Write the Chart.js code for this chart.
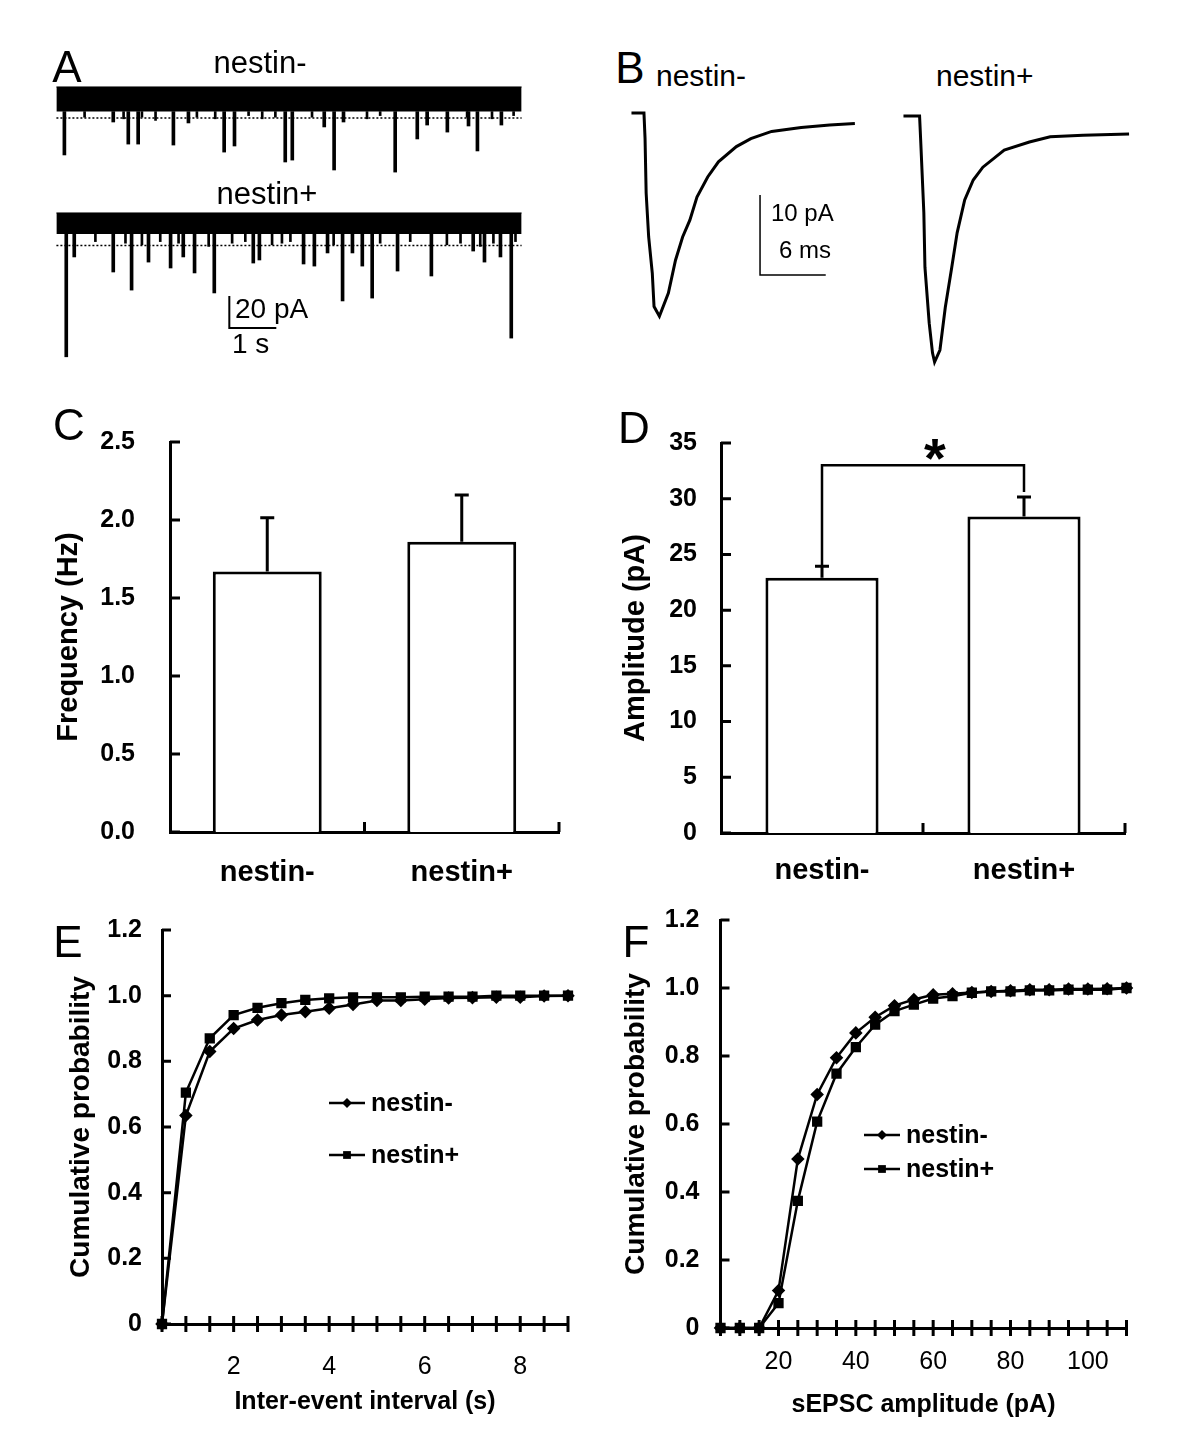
<!DOCTYPE html>
<html>
<head>
<meta charset="utf-8">
<script src="https://cdn.jsdelivr.net/npm/chart.js@4.4.1/dist/chart.umd.min.js"></script>
<style>
  body { margin: 0; background: #fff; }
  #fig { position: relative; width: 1200px; height: 1439px; background: #fff; overflow: hidden;
         font-family: "Liberation Sans", Arial, sans-serif; color: #000; }
  canvas { position: absolute; }
  .t { position: absolute; line-height: 1; white-space: nowrap; }
  .c { transform: translate(-50%, -50%); }
  .l { transform: translate(0, -50%); }
</style>
</head>
<body>
<div id="fig">
  <canvas id="a1" width="484" height="100" style="left:47px;top:80px"></canvas>
  <canvas id="a2" width="484" height="160" style="left:47px;top:205px"></canvas>
  <canvas id="b1" width="235" height="232" style="left:626px;top:97px"></canvas>
  <canvas id="b2" width="235" height="272" style="left:898px;top:100px"></canvas>
  <canvas id="c" width="530" height="508" style="left:40px;top:392px"></canvas>
  <canvas id="d" width="540" height="500" style="left:600px;top:400px"></canvas>
  <canvas id="e" width="540" height="535" style="left:40px;top:895px"></canvas>
  <canvas id="f" width="540" height="546" style="left:600px;top:884px"></canvas>

  <div class="t c" style="left:67px;top:67px;font-size:44px">A</div>
  <div class="t c" style="left:260px;top:62px;font-size:31px">nestin-</div>
  <div class="t c" style="left:267px;top:193px;font-size:31px">nestin+</div>
  <div class="t l" style="left:235px;top:309px;font-size:28px">20 pA</div>
  <div class="t l" style="left:232px;top:344px;font-size:28px">1 s</div>
  <div class="t c" style="left:630px;top:68px;font-size:44px">B</div>
  <div class="t l" style="left:656px;top:76px;font-size:30px">nestin-</div>
  <div class="t l" style="left:936px;top:76px;font-size:30px">nestin+</div>
  <div class="t l" style="left:771px;top:213px;font-size:24px">10 pA</div>
  <div class="t l" style="left:779px;top:250px;font-size:24px">6 ms</div>
  <div class="t c" style="left:69px;top:425px;font-size:44px">C</div>
  <div class="t c" style="left:634px;top:428px;font-size:44px">D</div>
  <div class="t c" style="left:68px;top:942px;font-size:44px">E</div>
  <div class="t c" style="left:636px;top:942px;font-size:44px">F</div>
</div>

<script>
// ---- data ----
const groups = ['nestin-', 'nestin+'];

// A: sEPSC events in the raw traces (time in s, peak in pA from baseline)
const traceDur = 9.9;
const negEventT = [0.17, 1.21, 1.53, 1.74, 2.49, 2.81, 3.57, 3.79, 4.87, 5.02, 5.70, 5.91, 6.11, 7.21, 7.68, 7.89, 8.32, 8.77, 8.96, 9.47];
const negEventAmp = [-35.6, -15, -28.8, -28.8, -29.4, -15.6, -33.8, -30, -40, -38.8, -18.1, -45, -15, -46.3, -25.6, -16.9, -21.3, -17.5, -33.1, -16.9];
const negSmallT = [0.6, 1.43, 1.82, 2.11, 2.99, 3.38, 4.09, 4.38, 4.66, 5.44, 6.61, 6.89, 8.74, 9.27, 9.73];
const negSmallAmp = [-12, -13, -12, -14, -12, -13, -11, -13, -12, -12, -13, -11, -12, -13, -11];
const posEventT = [0.21, 0.38, 1.21, 1.60, 1.96, 2.43, 2.70, 2.94, 3.36, 4.19, 4.32, 5.26, 5.49, 5.77, 6.09, 6.30, 6.51, 6.72, 7.26, 7.98, 8.87, 9.11, 9.45, 9.68];
const posEventAmp = [-83, -20.6, -30, -41.3, -23.8, -27.5, -20.6, -30.6, -43.1, -24.4, -22.5, -25, -26.3, -18.1, -48.1, -18.1, -26.3, -46.3, -29.4, -32.5, -16.9, -23.8, -20.6, -71.3];
const posSmallT = [0.83, 1.47, 1.82, 2.21, 2.60, 3.24, 3.74, 4.02, 4.59, 4.80, 4.98, 5.90, 6.89, 7.53, 8.31, 8.60, 9.02, 9.30, 9.77];
const posSmallAmp = [-11, -12, -13, -11, -12, -14, -12, -11, -13, -12, -11, -13, -12, -11, -13, -12, -14, -12, -11];
const negNoise = [6.9, -8.5];   // noise band top / bottom (pA)
const posNoise = [6.9, -6.3];
const negThreshold = -12.5;     // dotted detection line
const posThreshold = -13.5;

// B: averaged sEPSCs (time in ms, current in pA)
const avgNegT = [0, 1.14, 1.24, 1.34, 1.57, 1.90, 2.06, 2.55, 3.37, 4.02, 4.67, 5.33, 5.98, 6.96, 7.94, 9.58, 10.9, 12.8, 15.5, 18.1, 20.4];
const avgNegI = [0, 0, -3.2, -10, -15.5, -20, -24.2, -25.4, -22.5, -18.4, -15.5, -13.4, -10.5, -8.0, -6.1, -4.2, -3.2, -2.3, -1.8, -1.5, -1.3];
const avgPosT = [0, 1.47, 1.57, 1.86, 1.96, 2.35, 2.65, 2.84, 3.33, 3.82, 4.41, 4.9, 5.59, 6.37, 7.25, 9.2, 11.5, 13.4, 16.4, 20.6];
const avgPosI = [0, 0, -3, -12.1, -18.9, -25.9, -29.6, -30.75, -29.25, -23.9, -18.9, -14.6, -10.5, -8, -6.4, -4.25, -3.25, -2.6, -2.4, -2.25];

// C, D: mean +/- SEM
const freqMean = [1.67, 1.86];
const freqSem = [0.345, 0.30];
const ampMean = [22.9, 28.4];
const ampSem = [1.05, 1.75];

// E: cumulative inter-event interval
const intervalX = [0.5, 1, 1.5, 2, 2.5, 3, 3.5, 4, 4.5, 5, 5.5, 6, 6.5, 7, 7.5, 8, 8.5, 9];
const intervalNeg = [0, 0.635, 0.83, 0.90, 0.926, 0.941, 0.951, 0.962, 0.973, 0.985, 0.985, 0.989, 0.993, 0.994, 0.995, 0.995, 0.999, 1.0];
const intervalPos = [0, 0.705, 0.87, 0.941, 0.963, 0.977, 0.987, 0.992, 0.995, 0.995, 0.995, 0.997, 0.997, 0.997, 1.0, 1.0, 1.0, 1.0];

// F: cumulative amplitude
const ampX = [5, 10, 15, 20, 25, 30, 35, 40, 45, 50, 55, 60, 65, 70, 75, 80, 85, 90, 95, 100, 105, 110];
const ampNeg = [0, 0, 0, 0.11, 0.497, 0.687, 0.795, 0.868, 0.914, 0.948, 0.966, 0.98, 0.983, 0.987, 0.99, 0.992, 0.995, 0.995, 0.997, 0.997, 0.998, 1.0];
const ampPos = [0, 0, 0, 0.073, 0.374, 0.607, 0.748, 0.826, 0.892, 0.932, 0.951, 0.969, 0.976, 0.986, 0.99, 0.99, 0.993, 0.993, 0.995, 0.995, 0.995, 1.0];

// ---- defaults ----
const FONT = '"Liberation Sans", Arial, sans-serif';
Chart.defaults.font.family = FONT;
Chart.defaults.color = '#000';
Chart.defaults.animation = false;
Chart.defaults.responsive = false;
Chart.defaults.plugins.legend.display = false;
Chart.defaults.plugins.tooltip.enabled = false;

// ---- small plugins ----
const axisTicks = {
  id: 'axisTicks',
  afterDraw(chart, args, o) {
    const { ctx, chartArea: a, scales: { x, y } } = chart;
    ctx.save();
    ctx.strokeStyle = '#000';
    ctx.lineWidth = o.width;
    ctx.beginPath();
    y.ticks.forEach(t => {
      const p = y.getPixelForValue(t.value);
      ctx.moveTo(a.left, p);
      ctx.lineTo(a.left + o.yIn, p);
    });
    if (x.type === 'category') {
      const n = x.ticks.length, step = a.width / n;
      for (let i = 1; i <= n; i++) {
        const p = a.left + i * step;
        ctx.moveTo(p, a.bottom);
        ctx.lineTo(p, a.bottom - o.xIn);
      }
    } else {
      x.ticks.forEach(t => {
        const p = x.getPixelForValue(t.value);
        ctx.moveTo(p, a.bottom + o.xOut);
        ctx.lineTo(p, a.bottom - o.xIn);
      });
    }
    ctx.stroke();
    ctx.restore();
  }
};

const errorBars = {
  id: 'errorBars',
  afterDatasetsDraw(chart, args, o) {
    const { ctx, scales: { y } } = chart;
    const ds = chart.data.datasets[0];
    ctx.save();
    ctx.strokeStyle = '#000';
    ctx.lineWidth = o.width;
    chart.getDatasetMeta(0).data.forEach((bar, i) => {
      const top = y.getPixelForValue(ds.data[i] + o.sem[i]);
      ctx.beginPath();
      ctx.moveTo(bar.x, bar.y);
      ctx.lineTo(bar.x, top);
      ctx.moveTo(bar.x - o.cap, top);
      ctx.lineTo(bar.x + o.cap, top);
      ctx.stroke();
    });
    ctx.restore();
  }
};

const sigBracket = {
  id: 'sigBracket',
  afterDatasetsDraw(chart, args, o) {
    const { ctx, scales: { x, y } } = chart;
    const x1 = x.getPixelForValue(o.from), x2 = x.getPixelForValue(o.to);
    const yt = y.getPixelForValue(o.top);
    ctx.save();
    ctx.strokeStyle = '#000';
    ctx.lineWidth = o.width;
    ctx.beginPath();
    ctx.moveTo(x1, y.getPixelForValue(o.fromY));
    ctx.lineTo(x1, yt);
    ctx.lineTo(x2, yt);
    ctx.lineTo(x2, y.getPixelForValue(o.toY));
    ctx.stroke();
    ctx.fillStyle = '#000';
    ctx.font = 'bold 56px ' + FONT;
    ctx.textAlign = 'center';
    ctx.textBaseline = 'alphabetic';
    ctx.fillText(o.text, (x1 + x2) / 2 + o.dx, yt + o.dy);
    ctx.restore();
  }
};

const scaleBar = {
  id: 'scaleBar',
  afterDraw(chart, args, o) {
    const { ctx, scales: { x, y } } = chart;
    const px = x.getPixelForValue(o.x), py = y.getPixelForValue(o.y);
    ctx.save();
    ctx.strokeStyle = '#000';
    ctx.lineWidth = o.width;
    ctx.beginPath();
    ctx.moveTo(px, y.getPixelForValue(o.y + o.dy));
    ctx.lineTo(px, py);
    ctx.lineTo(x.getPixelForValue(o.x + o.dx), py);
    ctx.stroke();
    ctx.restore();
  }
};

function marker(ctx, style, cx, cy, r) {
  ctx.beginPath();
  if (style === 'rect') {
    const s = r * Math.SQRT1_2;
    ctx.rect(cx - s, cy - s, 2 * s, 2 * s);
  } else {
    ctx.moveTo(cx, cy - r); ctx.lineTo(cx + r, cy); ctx.lineTo(cx, cy + r); ctx.lineTo(cx - r, cy);
    ctx.closePath();
  }
  ctx.fill();
}

const lineLegend = {
  id: 'lineLegend',
  afterDraw(chart, args, o) {
    const ctx = chart.ctx;
    chart.data.datasets.forEach((ds, i) => {
      const y = o.y[i];
      ctx.save();
      ctx.strokeStyle = '#000';
      ctx.fillStyle = '#000';
      ctx.lineWidth = 2.5;
      ctx.beginPath();
      ctx.moveTo(o.x, y);
      ctx.lineTo(o.x + o.len, y);
      ctx.stroke();
      marker(ctx, ds.pointStyle, o.x + o.len / 2, y, ds.pointRadius);
      ctx.font = 'bold 25px ' + FONT;
      ctx.textBaseline = 'middle';
      ctx.fillText(ds.label, o.x + o.len + 6, y + 1);
      ctx.restore();
    });
  }
};

// ---- A: raw traces ----
function rawTrace(id, times, amps, smallT, smallAmp, noise, thr, yMin, yMax, extra) {
  const events = times.map((t, i) => ({ x: t, y: [amps[i], noise[1]] }));
  const small = smallT.map((t, i) => ({ x: t, y: [smallAmp[i], noise[1]] }));
  return new Chart(document.getElementById(id), {
    type: 'bar',
    data: {
      datasets: [
        { type: 'line', data: [{ x: 0, y: noise[0] }, { x: traceDur, y: noise[0] }],
          borderColor: '#000', borderWidth: 1, backgroundColor: '#000',
          fill: { value: noise[1] }, pointRadius: 0, clip: false },
        { type: 'line', data: [{ x: 0, y: thr }, { x: traceDur, y: thr }],
          borderColor: '#000', borderWidth: 1.5, borderDash: [2, 2], pointRadius: 0, fill: false },
        { data: small, backgroundColor: '#000', barThickness: 2, grouped: false },
        { data: events, backgroundColor: '#000', barThickness: 3, grouped: false }
      ]
    },
    options: {
      layout: { padding: 0 },
      scales: {
        x: { type: 'linear', display: false, min: -0.2, max: 10.1, offset: false },
        y: { display: false, min: yMin, max: yMax }
      },
      plugins: { scaleBar: extra }
    },
    plugins: extra ? [scaleBar] : []
  });
}
rawTrace('a1', negEventT, negEventAmp, negSmallT, negSmallAmp, negNoise, negThreshold, -51.25, 11.25, null);
rawTrace('a2', posEventT, posEventAmp, posSmallT, posSmallAmp, posNoise, posThreshold, -88.125, 11.875,
  { x: 3.68, y: -65, dx: 1, dy: 20, width: 2 });

// ---- B: averaged events ----
function avgTrace(id, t, i, yMin, bar) {
  return new Chart(document.getElementById(id), {
    type: 'line',
    data: {
      datasets: [{ data: t.map((v, k) => ({ x: v, y: i[k] })), borderColor: '#000',
        borderWidth: 3, pointRadius: 0, tension: 0, clip: false }]
    },
    options: {
      layout: { padding: 0 },
      scales: {
        x: { type: 'linear', display: false, min: -0.5, max: 20.96 },
        y: { display: false, min: yMin, max: 2 }
      },
      plugins: { scaleBar: bar }
    },
    plugins: bar ? [scaleBar] : []
  });
}
avgTrace('b1', avgNegT, avgNegI, -27, { x: 11.74, y: -20.25, dx: 6, dy: 10, width: 1.5 });
avgTrace('b2', avgPosT, avgPosI, -32, null);

// ---- C, D: bar charts ----
const axisBorder = { display: true, color: '#000', width: 3 };
const noGrid = { display: false, drawTicks: false };

function barPanel(id, means, sems, yMax, step, yTitle, fmt, geo, extraPlugins, extraOpts) {
  return new Chart(document.getElementById(id), {
    type: 'bar',
    data: {
      labels: groups,
      datasets: [{ data: means, backgroundColor: '#fff', borderColor: '#000', borderWidth: 3,
        barPercentage: 0.56, categoryPercentage: 1 }]
    },
    options: {
      layout: { padding: { top: geo.top, right: geo.right } },
      scales: {
        x: { grid: noGrid, border: axisBorder,
             ticks: { font: { size: 29, weight: 'bold' }, padding: geo.xPad },
             afterFit: s => { s.height = geo.xH; } },
        y: { min: 0, max: yMax, grid: noGrid, border: axisBorder,
             ticks: { stepSize: step, font: { size: 25, weight: 'bold' }, padding: geo.yPad, callback: fmt },
             title: { display: true, text: yTitle, font: { size: 29, weight: 'bold' }, padding: { top: geo.titlePad } },
             afterFit: s => { s.width = geo.yW; } }
      },
      plugins: Object.assign({
        axisTicks: { width: 3, yIn: 10, xIn: 10, xOut: 0 },
        errorBars: { sem: sems, cap: 7, width: 3 }
      }, extraOpts)
    },
    plugins: [axisTicks, errorBars].concat(extraPlugins)
  });
}

barPanel('c', freqMean, freqSem, 2.5, 0.5, 'Frequency (Hz)', v => v.toFixed(1),
  { top: 50, right: 11, xH: 68, yW: 130, xPad: 24, yPad: 35, titlePad: 12 }, [], {});

barPanel('d', ampMean, ampSem, 35, 5, 'Amplitude (pA)', v => v,
  { top: 43, right: 15, xH: 67, yW: 121, xPad: 21, yPad: 24, titlePad: 18.5 }, [sigBracket],
  { sigBracket: { from: 0, to: 1, fromY: ampMean[0] + ampSem[0], toY: 30.6, top: 33, width: 2.5, text: '*', dx: 12, dy: 12 } });

// ---- E, F: cumulative probability ----
// x tick labels are pushed down with a tall line height instead of tick padding,
// so that Chart.js does not reserve extra room on the right of the axis
function cumPanel(id, xs, neg, pos, xMin, xMax, step, labelEvery, xTitle, geo, legend) {
  return new Chart(document.getElementById(id), {
    type: 'line',
    data: {
      datasets: [
        { label: 'nestin-', data: xs.map((v, k) => ({ x: v, y: neg[k] })), borderColor: '#000',
          backgroundColor: '#000', borderWidth: 2.5, pointStyle: 'rectRot', pointRadius: 5, clip: false },
        { label: 'nestin+', data: xs.map((v, k) => ({ x: v, y: pos[k] })), borderColor: '#000',
          backgroundColor: '#000', borderWidth: 2.5, pointStyle: 'rect', pointRadius: 5.5, clip: false }
      ]
    },
    options: {
      layout: { padding: { top: geo.top, right: geo.right } },
      scales: {
        x: { type: 'linear', min: xMin, max: xMax, grid: noGrid, border: axisBorder,
             ticks: { stepSize: step, maxTicksLimit: 100, autoSkip: false, maxRotation: 0, minRotation: 0,
                      font: { size: 25, lineHeight: geo.xLine }, padding: 0,
                      callback: v => (Math.abs(v % labelEvery) < 1e-9 ? String(v) : '') },
             title: { display: true, text: xTitle, font: { size: 25, weight: 'bold' }, padding: { bottom: geo.xTitlePad } },
             afterFit: s => { s.height = geo.xH; } },
        y: { min: 0, max: 1.2, grid: noGrid, border: axisBorder,
             ticks: { stepSize: 0.2, font: { size: 25, weight: 'bold' }, padding: geo.yPad,
                      callback: v => (v === 0 ? '0' : v.toFixed(1)) },
             title: { display: true, text: 'Cumulative probability', font: { size: 28, weight: 'bold' }, padding: { top: geo.titlePad } },
             afterFit: s => { s.width = geo.yW; } }
      },
      plugins: {
        axisTicks: { width: 3, yIn: 9, xIn: 8, xOut: 8 },
        lineLegend: legend
      }
    },
    plugins: [axisTicks, lineLegend]
  });
}

cumPanel('e', intervalX, intervalNeg, intervalPos, 0.5, 9, 0.5, 2, 'Inter-event interval (s)',
  { top: 35, right: 12, xH: 106, yW: 122, xLine: 3.44, yPad: 20, titlePad: 24, xTitlePad: 13 },
  { x: 289, len: 36, y: [208, 260] });

cumPanel('f', ampX, ampNeg, ampPos, 5, 110, 5, 20, 'sEPSC amplitude (pA)',
  { top: 36, right: 13.5, xH: 102, yW: 120.5, xLine: 2.72, yPad: 21, titlePad: 19, xTitlePad: 10 },
  { x: 264, len: 36, y: [251, 285] });
</script>
</body>
</html>
